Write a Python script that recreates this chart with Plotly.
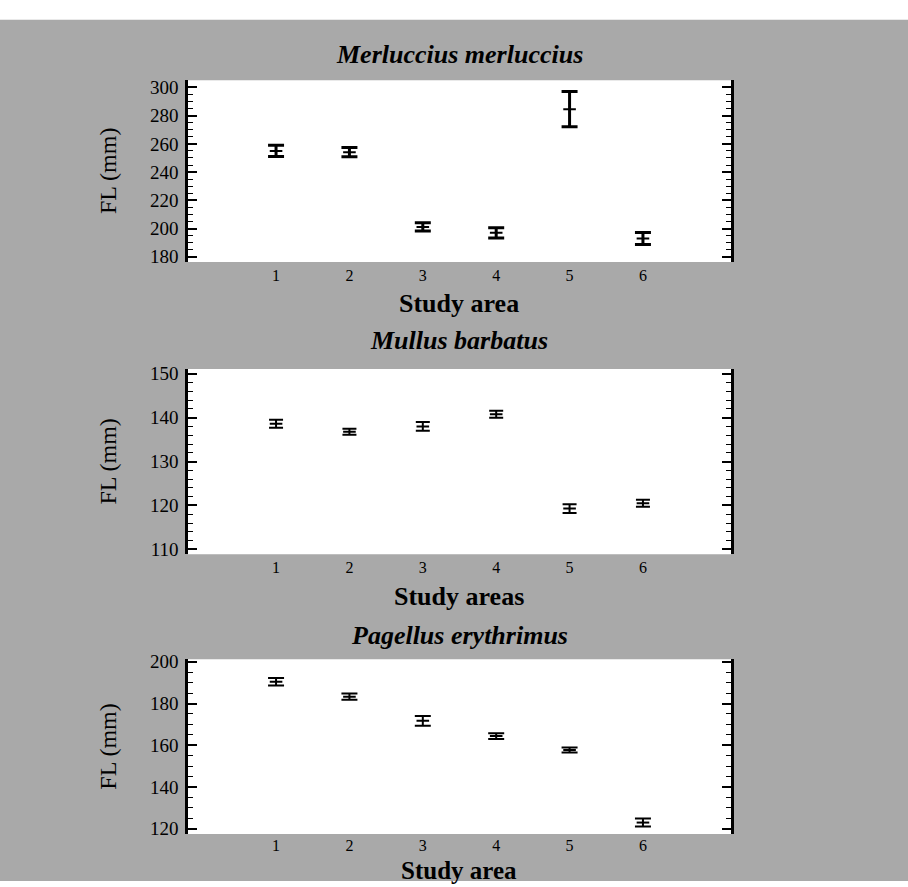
import plotly.graph_objects as go

# ---- data ----
areas = [1, 2, 3, 4, 5, 6]
area_ticks = ["1", "2", "3", "4", "5", "6"]

merluccius_mean = [255.0, 254.1, 201.1, 196.9, 284.6, 192.9]
merluccius_err = [4.0, 3.3, 2.9, 3.6, 12.5, 4.2]

mullus_mean = [138.6, 136.8, 138.0, 140.8, 119.3, 120.5]
mullus_err = [0.9, 0.7, 1.0, 0.8, 1.0, 0.8]

pagellus_mean = [190.4, 183.3, 171.7, 164.4, 157.8, 123.0]
pagellus_err = [1.8, 1.5, 2.3, 1.4, 1.2, 1.9]

titles = ["Merluccius merluccius", "Mullus barbatus", "Pagellus erythrimus"]
xtitles = ["Study area", "Study areas", "Study area"]
ytitle = "FL (mm)"

y_ticks = [[180, 200, 220, 240, 260, 280, 300],
           [110, 120, 130, 140, 150],
           [120, 140, 160, 180, 200]]

# ---- layout geometry (pixels) ----
W, H = 908, 887
FONT = "Liberation Serif, Times New Roman, serif"
GREY = "#a9a9a9"

def px(y):
    return 1 - y / H

x_dom = [188 / W, 731 / W]
panels = [
    dict(top=73.3, bot=258.0, rng=[176.3, 305.2], minor=5, title_y=47, xt_y=300,
         xt_size=26, standoff=2,
         mean=merluccius_mean, err=merluccius_err, thick=3, width=8),
    dict(top=366.7, bot=555.0, rng=[108.9, 151.1], minor=2, title_y=338, xt_y=598,
         xt_size=26, standoff=2,
         mean=mullus_mean, err=mullus_err, thick=2, width=7),
    dict(top=661.7, bot=839.3, rng=[117.5, 201.2], minor=5, title_y=638, xt_y=876,
         xt_size=25, standoff=0,
         mean=pagellus_mean, err=pagellus_err, thick=2, width=8),
]

fig = go.Figure()
shapes = [dict(type="rect", xref="paper", yref="paper", x0=0, x1=1, y0=0, y1=px(12),
               fillcolor=GREY, line=dict(width=0), layer="below")]
annotations = []

for i, p in enumerate(panels):
    n = "" if i == 0 else str(i + 1)
    xa, ya = "x" + n, "y" + n
    fig.add_trace(go.Scatter(
        x=areas, y=p["mean"], mode="markers", xaxis=xa, yaxis=ya,
        marker=dict(symbol="line-ew", size=9, color="black",
                    line=dict(width=2, color="black")),
        error_y=dict(type="data", array=p["err"], visible=True, color="black",
                     thickness=p["thick"], width=p["width"]),
        showlegend=False, hoverinfo="skip"))
    dom_y = [px(p["bot"]), px(p["top"])]
    fig.update_layout(**{
        "xaxis" + n: dict(domain=x_dom, range=[-0.2, 7.2], anchor=ya,
                          tickmode="array", tickvals=areas, ticktext=area_ticks,
                          showline=False, showgrid=False, zeroline=False, ticks="",
                          ticklabelstandoff=p["standoff"],
                          tickfont=dict(family=FONT, size=16, color="black")),
        "yaxis" + n: dict(domain=dom_y, range=p["rng"], anchor=xa,
                          tickmode="array", tickvals=y_ticks[i],
                          showline=True, linecolor="black", linewidth=2.5,
                          mirror="ticks", ticks="inside", ticklen=9, tickwidth=1.5,
                          tickcolor="black",
                          minor=dict(ticks="inside", ticklen=5, dtick=p["minor"],
                                     tickcolor="black", tickwidth=1, showgrid=False),
                          showgrid=False, zeroline=False, ticklabelstandoff=3,
                          tickfont=dict(family=FONT, size=19, color="black")),
    })
    shapes.append(dict(type="rect", xref="paper", yref="paper",
                       x0=x_dom[0], x1=x_dom[1], y0=dom_y[0], y1=dom_y[1],
                       fillcolor="white", line=dict(width=0), layer="below"))
    annotations.append(dict(text="<b><i>" + titles[i] + "</i></b>", xref="paper", yref="paper",
                            x=(x_dom[0] + x_dom[1]) / 2, y=px(p["title_y"]),
                            xanchor="center", yanchor="middle", showarrow=False,
                            font=dict(family=FONT, size=26, color="black")))
    annotations.append(dict(text="<b>" + xtitles[i] + "</b>", xref="paper", yref="paper",
                            x=(x_dom[0] + x_dom[1]) / 2, y=px(p["xt_y"]),
                            xanchor="center", yanchor="middle", showarrow=False,
                            font=dict(family=FONT, size=p["xt_size"], color="black")))
    annotations.append(dict(text=ytitle, xref="paper", yref="paper",
                            x=108 / W, y=px((p["top"] + p["bot"]) / 2),
                            xanchor="center", yanchor="middle", showarrow=False,
                            textangle=-90,
                            font=dict(family=FONT, size=24, color="black")))

fig.update_layout(width=W, height=H, margin=dict(l=0, r=0, t=0, b=0),
                  paper_bgcolor="white", plot_bgcolor="white",
                  shapes=shapes, annotations=annotations, showlegend=False)

fig.write_html("out.html", config={"displayModeBar": False},
               post_script="document.body.style.margin='0';document.body.style.overflow='hidden';")
